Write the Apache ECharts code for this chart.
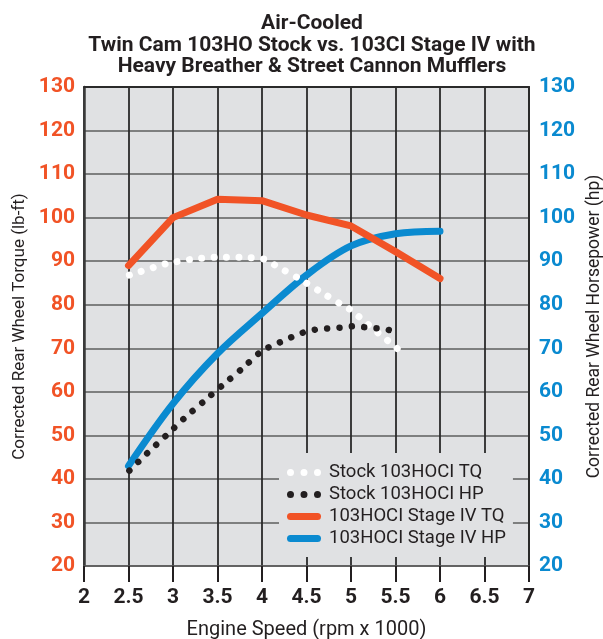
<!DOCTYPE html>
<html>
<head>
<meta charset="utf-8">
<script src="https://cdn.jsdelivr.net/npm/echarts@6/dist/echarts.min.js"></script>
<style>
html,body{margin:0;padding:0;background:#fff;}
#chart{width:603px;height:639px;}
</style>
</head>
<body>
<div id="chart"></div>
<script>
// ---- data ----
const titleLines = ['Air-Cooled', 'Twin Cam 103HO Stock vs. 103CI Stage IV with', 'Heavy Breather & Street Cannon Mufflers'];
const seriesNames = ['Stock 103HOCI TQ', 'Stock 103HOCI HP', '103HOCI Stage IV TQ', '103HOCI Stage IV HP'];

const stageRpm = [2.5, 3, 3.5, 4, 4.5, 5, 5.5, 6];
const stageTq = [89, 100, 104.2, 103.9, 100.6, 98.1, 92.2, 86];
const stageHp = [43, 57.3, 68.8, 78, 86.8, 93.5, 96.3, 96.9];

const stockTqRpm = [2.51, 2.92, 3.2, 3.48, 3.76, 4.04, 4.16, 4.4, 4.64, 4.88, 5.0, 5.12, 5.22, 5.33, 5.44, 5.55];
const stockTq = [86.8, 89.4, 90.4, 90.9, 90.9, 90.4, 88.9, 86.2, 83.2, 80.2, 78.8, 76.7, 75.0, 73.1, 71.3, 69.4];

const stockHpRpm = [2.51, 2.71, 2.92, 3.12, 3.34, 3.55, 3.77, 3.98, 4.1, 4.23, 4.36, 4.49, 4.63, 4.77, 4.91, 5.05, 5.2, 5.34, 5.48];
const stockHp = [41.9, 45.9, 49.9, 53.8, 57.7, 61.4, 65.2, 69.1, 70.5, 71.6, 72.8, 73.8, 74.4, 74.6, 74.8, 75.1, 74.7, 74.5, 74.0];

const xMin = 2, xMax = 7, xStep = 0.5;
const yMin = 20, yMax = 130, yStep = 10;

// ---- helpers ----
const pairs = (xs, ys) => xs.map((x, i) => [x, ys[i]]);
const ORANGE = '#f15326';
const BLUE = '#0a8ad0';
const FONT = 'Roboto, "Liberation Sans", sans-serif';
const dotsIcon = 'path://M0,3.5a3.5,3.5 0 1,0 7,0a3.5,3.5 0 1,0 -7,0Z M13.5,3.5a3.5,3.5 0 1,0 7,0a3.5,3.5 0 1,0 -7,0Z M27,3.5a3.5,3.5 0 1,0 7,0a3.5,3.5 0 1,0 -7,0Z';
const pillIcon = 'path://M3.5,0 L30.5,0 A3.5,3.5 0 0 1 30.5,7 L3.5,7 A3.5,3.5 0 0 1 3.5,0 Z';

const chart = echarts.init(document.getElementById('chart'), null, {renderer: 'canvas'});
chart.setOption({
  backgroundColor: '#ffffff',
  animation: false,
  title: {
    text: titleLines.join('\n'),
    left: 307,
    top: 8,
    textAlign: 'center',
    textStyle: {fontFamily: FONT, fontWeight: 'bold', fontSize: 21, lineHeight: 21.5, color: '#231f20'}
  },
  grid: {left: 84, right: 74, top: 87, bottom: 73, show: true, backgroundColor: '#e0e1e3', borderWidth: 0,
    outerBoundsMode: 'none', containLabel: false},
  legend: {
    orient: 'vertical',
    left: 279, top: 453,
    padding: [10, 7, 9, 8],
    backgroundColor: '#e0e1e3',
    itemWidth: 34, itemHeight: 7, itemGap: 3,
    textStyle: {fontFamily: FONT, fontSize: 18.5, lineHeight: 18, color: '#231f20', padding: [0, 0, 0, 3]},
    itemStyle: {borderWidth: 0},
    data: [
      {name: seriesNames[0], icon: dotsIcon},
      {name: seriesNames[1], icon: dotsIcon},
      {name: seriesNames[2], icon: pillIcon},
      {name: seriesNames[3], icon: pillIcon}
    ]
  },
  xAxis: [{
    type: 'value', min: xMin, max: xMax, interval: xStep,
    name: 'Engine Speed (rpm x 1000)', nameLocation: 'middle', nameGap: 54,
    nameTextStyle: {fontFamily: FONT, fontSize: 20, color: '#231f20'},
    axisLine: {show: true, lineStyle: {color: '#5a5a5a', width: 1.5}},
    axisTick: {show: true, length: 16, lineStyle: {color: '#231f20', width: 2}},
    axisLabel: {margin: 21, fontFamily: FONT, fontWeight: 'bold', fontSize: 21, color: '#231f20',
      formatter: v => String(v)},
    splitLine: {show: true, lineStyle: {color: '#2a2a2a', width: 1.8}}
  }, {
    type: 'value', min: xMin, max: xMax, interval: xStep, position: 'top',
    axisLine: {show: true, lineStyle: {color: '#2a2a2a', width: 2}},
    axisTick: {show: false}, axisLabel: {show: false}, splitLine: {show: false}
  }],
  yAxis: [{
    type: 'value', min: yMin, max: yMax, interval: yStep, position: 'left',
    name: 'Corrected Rear Wheel Torque (lb-ft)', nameLocation: 'middle', nameGap: 53, nameRotate: 90,
    nameTextStyle: {fontFamily: FONT, fontSize: 17, color: '#231f20'},
    axisLine: {show: true, lineStyle: {color: '#3a3a3a', width: 2.5}},
    axisTick: {show: false},
    axisLabel: {margin: 9, fontFamily: FONT, fontWeight: 'bold', fontSize: 21, color: ORANGE},
    splitLine: {show: true, lineStyle: {color: '#5e5e5e', width: 1.6}}
  }, {
    type: 'value', min: yMin, max: yMax, interval: yStep, position: 'right',
    name: 'Corrected Rear Wheel Horsepower (hp)', nameLocation: 'middle', nameGap: 50, nameRotate: 90,
    nameTextStyle: {fontFamily: FONT, fontSize: 17.5, color: '#231f20'},
    axisLine: {show: true, lineStyle: {color: '#2a2a2a', width: 2}},
    axisTick: {show: false},
    axisLabel: {margin: 10, fontFamily: FONT, fontWeight: 'bold', fontSize: 21, color: BLUE},
    splitLine: {show: false}
  }],
  series: [
    {
      name: seriesNames[3], type: 'line', yAxisIndex: 1, xAxisIndex: 0,
      data: pairs(stageRpm, stageHp), smooth: 0.35, showSymbol: false, symbol: 'none',
      itemStyle: {color: BLUE, borderWidth: 0},
      lineStyle: {color: BLUE, width: 7, cap: 'round', join: 'round'}
    },
    {
      name: seriesNames[2], type: 'line', yAxisIndex: 0, xAxisIndex: 0,
      data: pairs(stageRpm, stageTq), smooth: false, showSymbol: false, symbol: 'none',
      itemStyle: {color: ORANGE, borderWidth: 0},
      lineStyle: {color: ORANGE, width: 7, cap: 'round', join: 'round'}
    },
    {
      name: seriesNames[0], type: 'line', yAxisIndex: 0, xAxisIndex: 0,
      data: pairs(stockTqRpm, stockTq), smooth: 0.2, showSymbol: false, symbol: 'none',
      itemStyle: {color: '#ffffff', borderWidth: 0},
      lineStyle: {color: '#ffffff', width: 7, type: [0.01, 12.4], cap: 'round', join: 'round'}
    },
    {
      name: seriesNames[1], type: 'line', yAxisIndex: 1, xAxisIndex: 0,
      data: pairs(stockHpRpm, stockHp), smooth: 0.2, showSymbol: false, symbol: 'none',
      itemStyle: {color: '#231f20', borderWidth: 0},
      lineStyle: {color: '#231f20', width: 6.5, type: [0.01, 12.4], cap: 'round', join: 'round'}
    }
  ]
});
</script>
</body>
</html>
